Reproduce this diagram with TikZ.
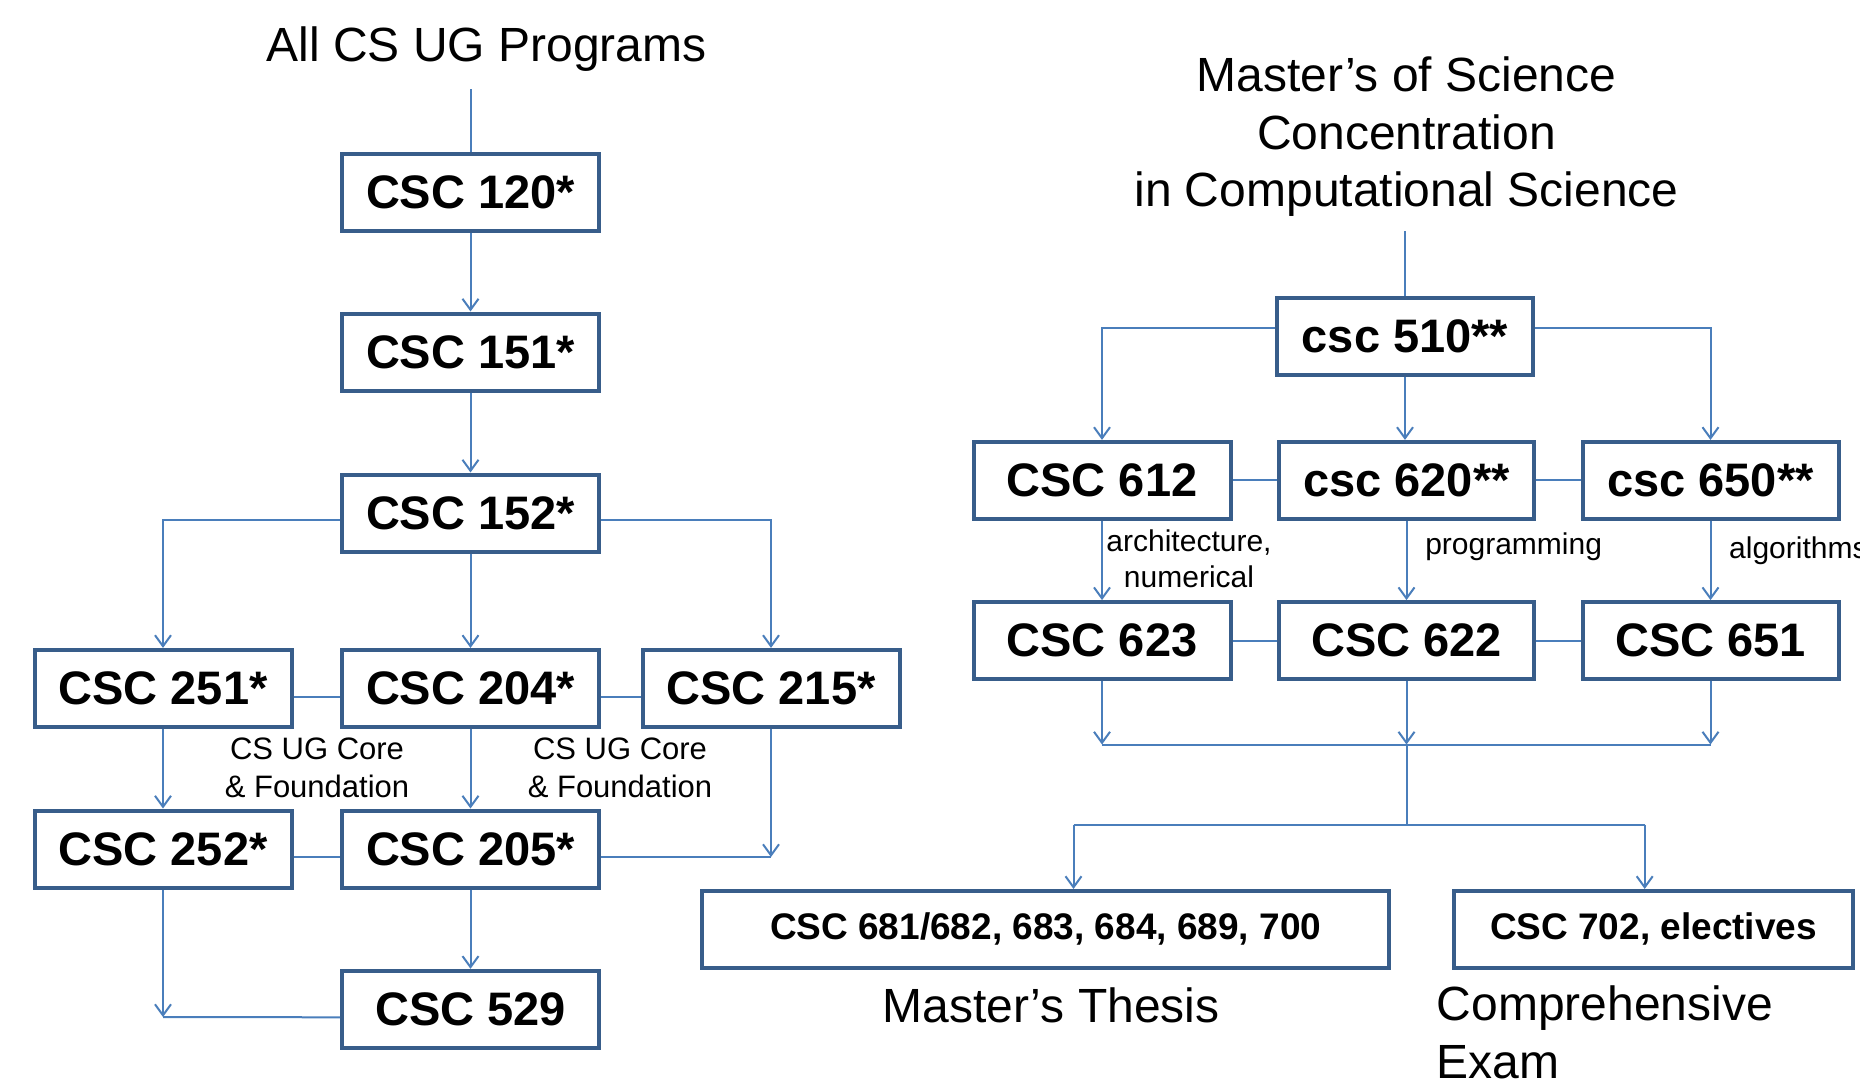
\documentclass[tikz,border=0pt]{standalone}
\usepackage{fontspec}
\setmainfont{Liberation Sans}
\usetikzlibrary{arrows.meta,calc}
\definecolor{boxc}{RGB}{56,93,138}
\definecolor{linec}{RGB}{74,126,187}
\begin{document}
\begin{tikzpicture}[x=1pt,y=-1pt,
  box/.style={draw=boxc, line width=4pt, fill=white, inner sep=0pt, minimum height=77pt, font=\bfseries\fontsize{47}{50}\selectfont},
  sbox/.style={box, minimum width=257pt},
  wbox/.style={box, minimum height=76.7pt, font=\bfseries\fontsize{37}{40}\selectfont},
  conn/.style={draw=linec, line width=2pt},
  arr/.style={conn, -{Straight Barb[length=11pt,width=16pt,line width=2pt]}},
  title/.style={font=\fontsize{48}{57.5}\selectfont, inner sep=0pt},
  lab/.style={font=\fontsize{31}{38.5}\selectfont, inner sep=0pt},
  labs/.style={font=\fontsize{30}{36}\selectfont, inner sep=0pt},
]
\useasboundingbox (0,0) rectangle (1860,1079);
\clip (0,0) rectangle (1860,1079);

% ---------- left part ----------
\node[title, anchor=base] (tl) at (486.5,61.3) {All CS UG Programs};
\node[sbox] (c120) at (470.5,192) {CSC 120*};
\node[sbox] (c151) at (470.5,352) {CSC 151*};
\node[sbox] (c152) at (470.5,513) {CSC 152*};
\node[sbox] (c251) at (163,688.4) {CSC 251*};
\node[sbox] (c204) at (470.5,688.4) {CSC 204*};
\node[sbox] (c215) at (771,688.4) {CSC 215*};
\node[sbox] (c252) at (163,849) {CSC 252*};
\node[sbox] (c205) at (470.5,849) {CSC 205*};
\node[sbox] (c529) at (470.5,1009.3) {CSC 529};

\coordinate (t1) at (470.5,89);
\coordinate (k1) at (771,857);
\coordinate (k2) at (163,1017);

\draw[conn] (t1) -- (c120.north);
\draw[arr] (c120) -- (c151);
\draw[arr] (c151) -- (c152);
\draw[arr] ([yshift=-7pt]c152.west) -| (c251.north);
\draw[arr] ([yshift=-7pt]c152.east) -| (c215.north);
\draw[arr] (c152) -- (c204);
\draw[conn] ([yshift=-9pt]c251.east) -- ([yshift=-9pt]c204.west);
\draw[conn] ([yshift=-9pt]c204.east) -- ([yshift=-9pt]c215.west);
\draw[arr] (c251) -- (c252);
\draw[arr] (c204) -- (c205);
\draw[arr] (c215.south) -- (k1);
\draw[conn] ([yshift=-8pt]c205.east) -- (k1);
\draw[conn] ([yshift=-8pt]c252.east) -- ([yshift=-8pt]c205.west);
\draw[arr] (c205) -- (c529);
\draw[arr] (c252.south) -- (k2);
\draw[conn] ([yshift=-8pt]c529.west) -- (k2);

\node[lab, anchor=base, align=center] (l1) at (317,797.8) {CS UG Core\\\& Foundation};
\node[lab, anchor=base, align=center] (l2) at (620,797.8) {CS UG Core\\\& Foundation};

% ---------- right part ----------
\node[title, anchor=base, align=center] (tr) at (1406.5,206.6) {Master’s of Science\\Concentration\\in Computational Science};
\node[sbox, minimum width=256pt] (c510) at (1405,336) {csc 510**};
\node[sbox] (c612) at (1102,480.4) {CSC 612};
\node[sbox, minimum width=255pt] (c620) at (1406.5,480.4) {csc 620**};
\node[sbox, minimum width=256pt] (c650) at (1710.5,480.4) {csc 650**};
\node[sbox] (c623) at (1102,640.6) {CSC 623};
\node[sbox, minimum width=255pt] (c622) at (1406.5,640.6) {CSC 622};
\node[sbox, minimum width=256pt] (c651) at (1710.5,640.6) {CSC 651};
\node[wbox, minimum width=687.4pt] (c681) at (1045.7,929.3) {CSC 681/682, 683, 684, 689, 700};
\node[wbox, minimum width=399pt] (c702) at (1653.5,929.3) {CSC 702, electives};

\coordinate (t2) at (1405,231);
\coordinate (m1) at (1102,744.5);
\coordinate (m2) at (1406.5,744.5);
\coordinate (m3) at (1710.5,744.5);
\coordinate (s0) at (1406.5,824.6);
\coordinate (s1) at (1073.5,824.6);
\coordinate (s2) at (1644.7,824.6);

\draw[conn] (t2) -- (c510.north);
\draw[arr] ([yshift=8pt]c510.west) -| (c612.north);
\draw[arr] ([yshift=8pt]c510.east) -| (c650.north);
\draw[arr] (c510.south) -- (c510.south |- c620.north);
\draw[conn] (c612) -- (c620);
\draw[conn] (c620) -- (c650);
\draw[arr] (c612) -- (c623);
\draw[arr] (c620) -- (c622);
\draw[arr] (c650) -- (c651);
\draw[conn] (c623) -- (c622);
\draw[conn] (c622) -- (c651);
\draw[arr] (c623) -- (m1);
\draw[arr] (c622) -- (m2);
\draw[arr] (c651) -- (m3);
\draw[conn] (m1) -- (m3);
\draw[conn] (m2) -- (s0);
\draw[conn] (s1) -- (s2);
\draw[arr] (s1) -- (s1 |- c681.north);
\draw[arr] (s2) -- (s2 |- c702.north);

\node[labs, anchor=base, align=center] (l3) at (1189,587) {architecture,\\numerical};
\node[labs, anchor=base] (l4) at (1513.6,554) {programming};
\node[labs, anchor=base west] (l5) at (1729,558) {algorithms};
\node[title, anchor=base] (l6) at (1051,1022) {Master’s Thesis};
\node[title, anchor=base west, align=left] (l7) at (1436.5,1078) {Comprehensive\\Exam};
\end{tikzpicture}
\end{document}
